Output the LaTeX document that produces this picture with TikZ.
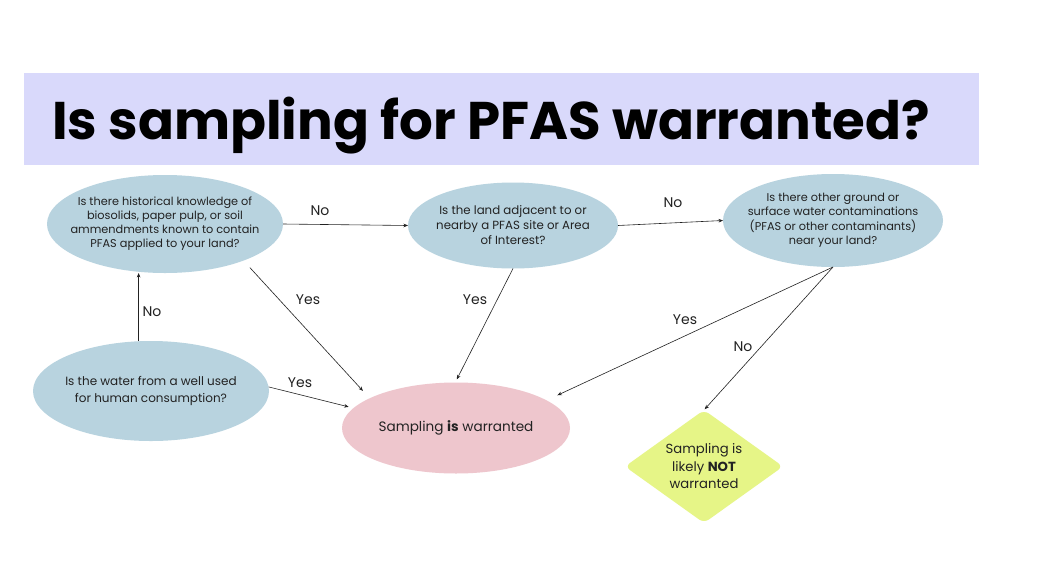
\documentclass[tikz,border=0pt]{standalone}
\usepackage{fontspec}
\setmainfont{Poppins}
\usetikzlibrary{shapes.geometric,arrows.meta}
\definecolor{band}{HTML}{D9D9FB}
\definecolor{qblue}{HTML}{B8D3DF}
\definecolor{pinkc}{HTML}{EEC6CD}
\definecolor{limec}{HTML}{E6F587}
\definecolor{ink}{HTML}{222222}
\begin{document}
\begin{tikzpicture}[x=1pt,y=-1pt,
  q/.style={ellipse,fill=qblue,inner sep=-30pt,outer sep=0pt,align=center,text=ink,font=\fontsize{11.3}{14}\selectfont},
  arr/.style={-{Stealth[length=4.5pt,width=3.6pt]},line width=0.6pt,draw=ink},
  lbl/.style={font=\fontsize{14}{16}\selectfont,text=ink,inner sep=0pt}]
\useasboundingbox (0,0) rectangle (1038,584);
\fill[white] (0,0) rectangle (1038,584);
\node[fill=band,minimum width=955pt,minimum height=92pt,inner sep=0pt,anchor=north west] (band) at (24,73) {};
\node[font=\fontsize{53}{60}\selectfont\bfseries,text=black,anchor=base west,inner sep=0pt] (title) at (52,139) {Is sampling for PFAS warranted?};

\node[q,minimum width=236pt,minimum height=98pt] (e1) at (165,224)
  {Is there historical knowledge of\\biosolids, paper pulp, or soil\\ammendments known to contain\\PFAS applied to your land?};
\node[q,minimum width=210pt,minimum height=86pt,font=\fontsize{11.8}{15}\selectfont] (e2) at (513,225.5)
  {Is the land adjacent to or\\nearby a PFAS site or Area\\of Interest?};
\node[q,minimum width=220pt,minimum height=93pt,font=\fontsize{11.3}{14.5}\selectfont] (e3) at (833,220.5)
  {Is there other ground or\\surface water contaminations\\(PFAS or other contaminants)\\near your land?};
\node[q,minimum width=236pt,minimum height=100pt,font=\fontsize{12}{16.5}\selectfont] (e4) at (151,391)
  {Is the water from a well used\\for human consumption?};
\node[ellipse,fill=pinkc,inner sep=-30pt,outer sep=0pt,minimum width=228pt,minimum height=91pt,text=ink,font=\fontsize{13.6}{16}\selectfont] (ok) at (456,428)
  {Sampling \textbf{is} warranted};
\node[diamond,aspect=1.4,fill=limec,rounded corners=6pt,inner sep=0pt,outer sep=0pt,minimum width=158pt,minimum height=113pt,align=center,text=ink,font=\fontsize{13.2}{17.5}\selectfont] (no) at (704,466.5)
  {Sampling is\\likely \textbf{NOT}\\warranted};

\draw[arr] (e1.east) -- (e2.west);
\draw[arr] (e2.east) -- (e3.west);
\draw[arr] (e4.104) -- (e4.104 |- e1.south);
\draw[arr,shorten <=9.5pt,shorten >=10pt] (e1.-25) -- (ok.161);
\draw[arr,shorten >=3.5pt] (e2.south) -- (ok.91);
\draw[arr,shorten >=5pt] (e4.2) -- (ok.169);
\draw[arr,shorten >=12pt] (e3.south) -- (ok.17);
\draw[arr,shorten >=1pt] (e3.south) -- (no.north);

\node[lbl] (l1) at (320,211) {No};
\node[lbl] (l2) at (673,203) {No};
\node[lbl] (l3) at (152,312) {No};
\node[lbl] (l4) at (308,300) {Yes};
\node[lbl] (l5) at (475,300) {Yes};
\node[lbl] (l6) at (685,320) {Yes};
\node[lbl] (l7) at (743,347) {No};
\node[lbl] (l8) at (300,383) {Yes};
\end{tikzpicture}
\end{document}
